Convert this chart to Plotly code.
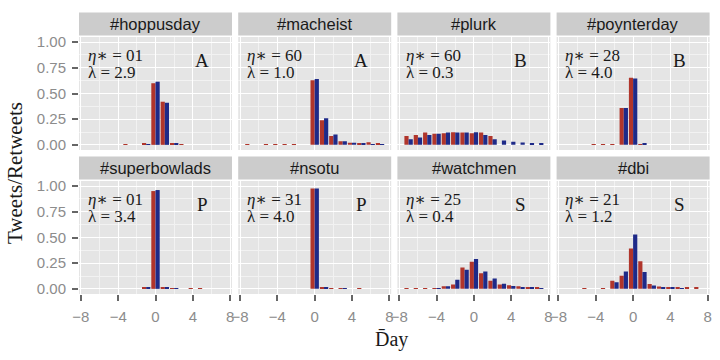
import plotly.graph_objects as go

# ---------------- data ----------------
days = list(range(-8, 8))

tags = ["#hoppusday", "#macheist", "#plurk", "#poynterday",
        "#superbowlads", "#nsotu", "#watchmen", "#dbi"]
eta_vals = ["01", "60", "60", "28", "01", "31", "25", "21"]
lambda_vals = ["2.9", "1.0", "0.3", "4.0", "3.4", "4.0", "0.4", "1.2"]
classes = ["A", "A", "B", "B", "P", "P", "S", "S"]

tweets_hoppusday = [0, 0, 0, 0, 0, 0.004, 0, 0.01, 0.60, 0.42, 0.012, 0.003, 0, 0, 0, 0]
retweets_hoppusday = [0, 0, 0, 0, 0, 0, 0, 0.002, 0.615, 0.41, 0.01, 0, 0, 0, 0, 0]

tweets_macheist = [0, 0.005, 0, 0.008, 0.005, 0.005, 0.004, 0, 0.63, 0.24, 0.087, 0.035, 0.02, 0.012, 0.025, 0.012]
retweets_macheist = [0, 0, 0, 0, 0, 0, 0, 0, 0.64, 0.26, 0.10, 0.035, 0.02, 0.012, 0.006, 0.004]

tweets_plurk = [0, 0.087, 0.097, 0.12, 0.107, 0.113, 0.123, 0.12, 0.113, 0.12, 0.087, 0, 0, 0, 0, 0]
retweets_plurk = [0, 0.055, 0.071, 0.097, 0.107, 0.12, 0.12, 0.12, 0.123, 0.097, 0.055, 0.042, 0.03, 0.023, 0.016, 0.01]

tweets_poynterday = [0, 0, 0, 0, 0.003, 0.003, 0.003, 0.36, 0.654, 0.005, 0, 0, 0, 0, 0, 0]
retweets_poynterday = [0, 0, 0, 0, 0, 0, 0, 0.36, 0.647, 0.015, 0, 0, 0, 0, 0, 0]

tweets_superbowlads = [0, 0, 0, 0, 0, 0, 0, 0.015, 0.952, 0.01, 0.005, 0, 0.003, 0.005, 0, 0]
retweets_superbowlads = [0, 0, 0, 0, 0, 0, 0, 0.015, 0.962, 0.01, 0.003, 0, 0, 0, 0, 0]

tweets_nsotu = [0, 0, 0, 0, 0, 0, 0, 0, 0.978, 0.01, 0.004, 0.003, 0, 0.003, 0, 0]
retweets_nsotu = [0, 0, 0, 0, 0, 0, 0, 0, 0.978, 0.012, 0, 0.002, 0, 0, 0, 0]

tweets_watchmen = [0, 0.008, 0.008, 0.008, 0.008, 0.026, 0.042, 0.208, 0.265, 0.153, 0.08, 0.042, 0.035, 0.026, 0.016, 0.016]
retweets_watchmen = [0, 0, 0, 0, 0.003, 0.026, 0.089, 0.185, 0.29, 0.17, 0.10, 0.05, 0.029, 0.019, 0.016, 0.005]

tweets_dbi = [0, 0, 0, 0.005, 0, 0.005, 0.08, 0.128, 0.393, 0.27, 0.048, 0.022, 0.016, 0.01, 0.01, 0.01]
retweets_dbi = [0, 0, 0, 0, 0, 0, 0.064, 0.169, 0.53, 0.163, 0.032, 0.01, 0.01, 0.004, 0, 0]

tweets = [tweets_hoppusday, tweets_macheist, tweets_plurk, tweets_poynterday,
          tweets_superbowlads, tweets_nsotu, tweets_watchmen, tweets_dbi]
retweets = [retweets_hoppusday, retweets_macheist, retweets_plurk, retweets_poynterday,
            retweets_superbowlads, retweets_nsotu, retweets_watchmen, retweets_dbi]

x_ticks = [-8, -4, 0, 4, 8]
y_ticks = [0, 0.25, 0.5, 0.75, 1.0]

# ---------------- layout geometry (pixels) ----------------
W, H = 720, 360
col_left = [79, 238.2, 397.4, 556.6]
panel_w = 153
row_top = [37, 181]
panel_h = 113
strip_h = 23
strip_gap = 1.5

RED = "#B0352B"
BLUE = "#1E2A88"
SERIF = "Liberation Serif, DejaVu Serif, serif"
SANS = "Liberation Sans, Arial, sans-serif"

fig = go.Figure()
layout = dict(
    width=W, height=H, margin=dict(l=0, r=0, t=0, b=0, autoexpand=False),
    paper_bgcolor="white", plot_bgcolor="#E5E5E5",
    barmode="overlay", showlegend=False,
)
shapes = []
annotations = []

for i in range(8):
    r, c = divmod(i, 4)
    n = i + 1
    xa = "x" if n == 1 else f"x{n}"
    ya = "y" if n == 1 else f"y{n}"
    fig.add_trace(go.Bar(x=days, y=tweets[i], width=0.45, offset=-0.45,
                         marker=dict(color=RED, line=dict(width=0)),
                         xaxis=xa, yaxis=ya))
    fig.add_trace(go.Bar(x=days, y=retweets[i], width=0.45, offset=0.0,
                         marker=dict(color=BLUE, line=dict(width=0)),
                         xaxis=xa, yaxis=ya))

    x0 = col_left[c] / W
    x1 = (col_left[c] + panel_w) / W
    y1 = 1 - row_top[r] / H
    y0 = 1 - (row_top[r] + panel_h) / H

    bottom = (r == 1)
    left = (c == 0)
    layout["xaxis" if n == 1 else f"xaxis{n}"] = dict(
        domain=[x0, x1], anchor=ya, range=[-8.2, 8.2], automargin=False,
        tickmode="array", tickvals=x_ticks,
        showgrid=True, gridcolor="white", gridwidth=1.3,
        minor=dict(tickmode="array", tickvals=[-6, -2, 2, 6], showgrid=True,
                   gridcolor="#F2F2F2", gridwidth=0.6, ticks=""),
        zeroline=False, showline=False,
        showticklabels=bottom, ticks="outside" if bottom else "",
        ticklen=6, tickwidth=1.6, tickcolor="#666666", ticklabelstandoff=3,
        tickfont=dict(family=SANS, size=15, color="#8C8C8C"),
        fixedrange=True,
    )
    layout["yaxis" if n == 1 else f"yaxis{n}"] = dict(
        domain=[y0, y1], anchor=xa, range=[-0.05, 1.05], automargin=False,
        tickmode="array", tickvals=y_ticks, tickformat=".2f",
        showgrid=True, gridcolor="white", gridwidth=1.3,
        minor=dict(tickmode="array", tickvals=[0.125, 0.375, 0.625, 0.875],
                   showgrid=True, gridcolor="#F2F2F2", gridwidth=0.6, ticks=""),
        zeroline=False, showline=False,
        showticklabels=left, ticks="outside" if left else "",
        ticklen=6, tickwidth=1.6, tickcolor="#666666", ticklabelstandoff=3,
        tickfont=dict(family=SANS, size=15, color="#8C8C8C"),
        fixedrange=True,
    )

    # strip
    s_bot = 1 - (row_top[r] - strip_gap) / H
    s_top = 1 - (row_top[r] - strip_gap - strip_h) / H
    shapes.append(dict(type="rect", xref="paper", yref="paper",
                       x0=x0, x1=x1, y0=s_bot, y1=s_top,
                       fillcolor="#CCCCCC", line=dict(width=0), layer="below"))
    annotations.append(dict(text=tags[i], xref="paper", yref="paper",
                            x=(x0 + x1) / 2, y=(s_bot + s_top) / 2,
                            xanchor="center", yanchor="middle", showarrow=False,
                            font=dict(family=SANS, size=16.5, color="#1A1A1A")))
    # in-panel text
    annotations.append(dict(text=f"<i>η</i>∗ = {eta_vals[i]}",
                            xref=f"{xa} domain", yref=f"{ya} domain",
                            x=0.045, y=0.835, xanchor="left", yanchor="middle",
                            showarrow=False,
                            font=dict(family=SERIF, size=17, color="#1A1A1A")))
    annotations.append(dict(text=f"λ = {lambda_vals[i]}",
                            xref=f"{xa} domain", yref=f"{ya} domain",
                            x=0.045, y=0.685, xanchor="left", yanchor="middle",
                            showarrow=False,
                            font=dict(family=SERIF, size=17, color="#1A1A1A")))
    annotations.append(dict(text=classes[i],
                            xref=f"{xa} domain", yref=f"{ya} domain",
                            x=0.805, y=0.79, xanchor="center", yanchor="middle",
                            showarrow=False,
                            font=dict(family=SERIF, size=19, color="#1A1A1A")))

# axis titles
annotations.append(dict(text="Tweets/Retweets", xref="paper", yref="paper",
                        x=15 / W, y=1 - 173 / H, textangle=-90,
                        xanchor="center", yanchor="middle", showarrow=False,
                        font=dict(family=SERIF, size=21, color="#1A1A1A")))
annotations.append(dict(text="D\u0304ay", xref="paper", yref="paper",
                        x=392 / W, y=1 - 339 / H,
                        xanchor="center", yanchor="middle", showarrow=False,
                        font=dict(family=SERIF, size=20, color="#1A1A1A")))

layout["shapes"] = shapes
layout["annotations"] = annotations
fig.update_layout(**layout)
fig.write_html("out.html", config={"displayModeBar": False},
               post_script="document.body.style.margin='0px';"
                           "document.body.style.overflow='hidden';")
